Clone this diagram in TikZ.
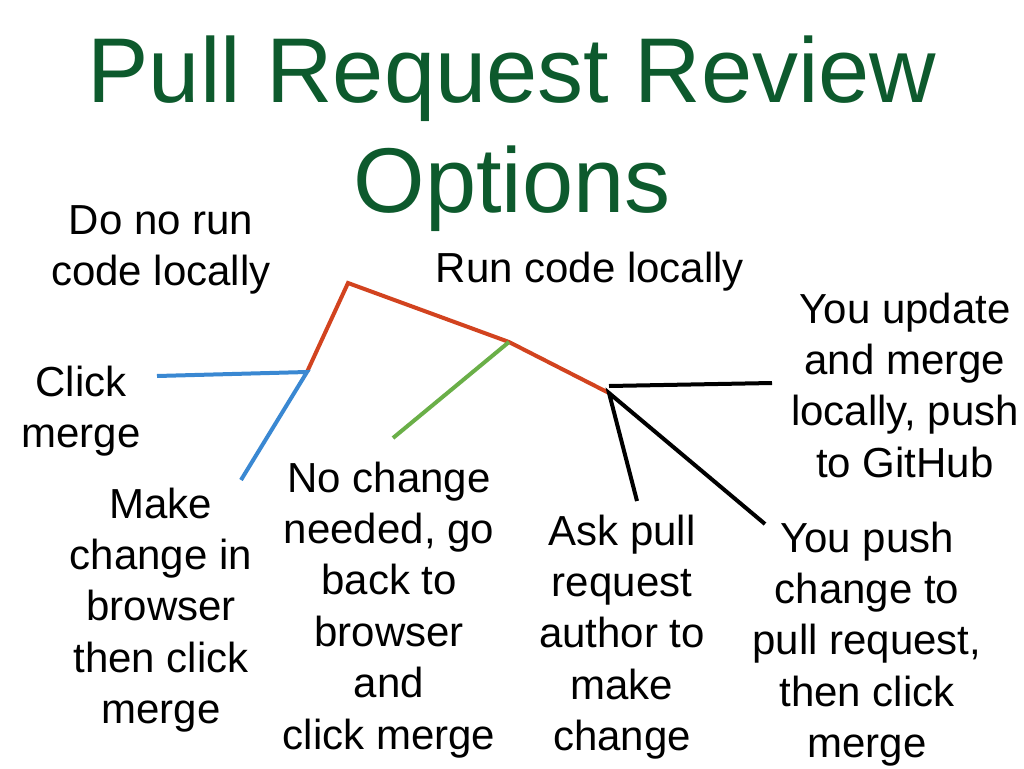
\documentclass[tikz,border=0pt]{standalone}
\usepackage{fontspec}
\setmainfont{Liberation Sans}
\usetikzlibrary{calc}
\definecolor{titlegreen}{HTML}{0D5A2D}
\definecolor{runred}{HTML}{D2431F}
\definecolor{browserblue}{HTML}{3A88D2}
\definecolor{backgreen}{HTML}{6AAF48}
\tikzset{
	label text/.style={font=\fontsize{42}{51.4}\selectfont, align=center, anchor=base, inner sep=0pt},
	branch/.style={line width=4pt}
}

\begin{document}
\begin{tikzpicture}[x=1pt, y=-1pt]
				\useasboundingbox (0, 0) rectangle (1024, 768);
				
				% base anchor of a multi-line node sits on its last line
				\node[font=\fontsize{92}{110}\selectfont, text=titlegreen, align=center, anchor=base, inner sep=0pt] (title) at (512, 212) {Pull Request Review\\Options};
				
				\node[label text] (norun) at (161, 285.4) {Do no run\\code locally};
				\node[label text] (runlocal) at (590, 282) {Run code locally};
				\node[label text] (click) at (81, 447.4) {Click\\merge};
				\node[label text] (browser) at (161, 723.6) {Make\\change in\\browser\\then click\\merge};
				\node[label text] (nochange) at (389, 749) {No change\\needed, go\\back to\\browser\\and\\click merge};
				\node[label text] (askauthor) at (622, 750.6) {Ask pull\\request\\author to\\make\\change};
				\node[label text] (youpush) at (867, 757.6) {You push\\change to\\pull request,\\then click\\merge};
				\node[label text] (youupdate) at (905, 477.2) {You update\\and merge\\locally, push\\to GitHub};
				
				% joints of the tree
				\coordinate (root) at (348, 283);
				\coordinate (nolocal) at (307, 372);
				\coordinate (local) at (509, 342);
				\coordinate (change) at (609, 393);
				
				% free ends
				\coordinate (clickend) at (157, 376);
				\coordinate (browserend) at (241, 480);
				\coordinate (nochangeend) at (393, 438);
				\coordinate (updateend) at (772, 383);
				\coordinate (askend) at (637, 501);
				\coordinate (pushend) at (765, 524);
				
				\draw[branch, runred] (nolocal) -- (root) -- (local) -- (change);
				\draw[branch, browserblue] (clickend) -- (nolocal) -- (browserend);
				\draw[branch, backgreen] (local) -- (nochangeend);
				\draw[branch] (change |- 0, 386) -- (updateend);
				\draw[branch] (askend) -- (change) -- (pushend);
			\end{tikzpicture}
\end{document}
